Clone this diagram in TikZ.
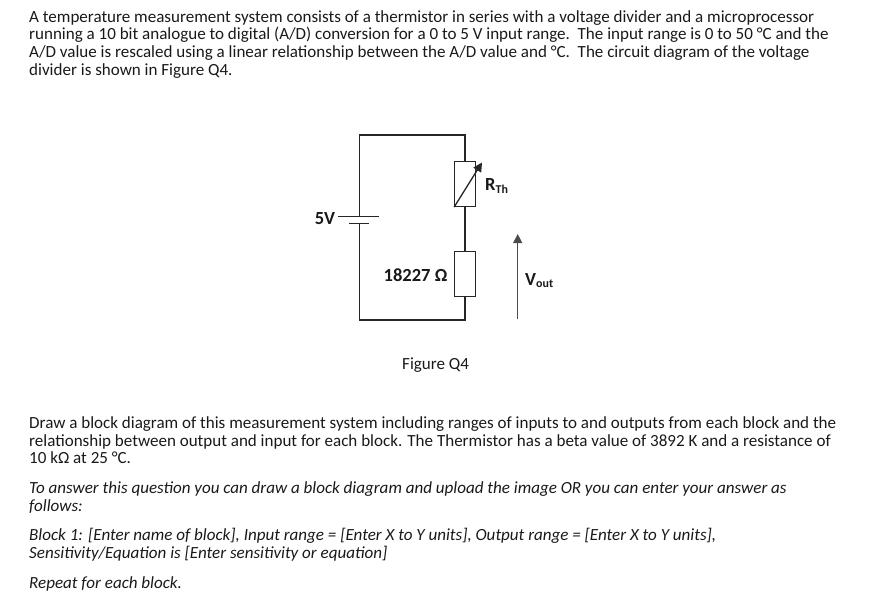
\documentclass[tikz,border=0pt]{standalone}
\usepackage{fontspec}
\setmainfont{Carlito}
\usetikzlibrary{arrows.meta}
\tikzset{
  x=1pt,y=-1pt,
  txt/.style={anchor=base west,inner sep=0pt,font=\fontsize{17.03}{18}\selectfont,text=black!90},
  itxt/.style={txt,font=\fontsize{17.03}{18}\selectfont\itshape},
  lbl/.style={inner sep=0pt,font=\fontsize{18.5}{20}\selectfont\bfseries,text=black!90},
  wire/.style={draw=black!85,line width=1.3pt},
  res/.style={draw=black!85,line width=1.3pt,fill=white,minimum width=20.5pt,minimum height=45pt,inner sep=0pt,rectangle},
  plate/.style={draw=black!85,line width=1.3pt}
}
\begin{document}
\begin{tikzpicture}
\useasboundingbox (0,0) rectangle (893,607);
\node[txt] (t1) at (29,22.3) {A temperature measurement system consists of a thermistor in series with a voltage divider and a microprocessor};
\node[txt] (t2) at (29,40) {running a 10 bit analogue to digital (A/D) conversion for a 0 to 5 V input range.\ \ The input range is 0 to 50 °C and the};
\node[txt] (t3) at (29,57.8) {A/D value is rescaled using a linear relationship between the A/D value and °C.\ \ The circuit diagram of the voltage};
\node[txt] (t4) at (29,75.6) {divider is shown in Figure Q4.};
\node[txt] (fig) at (402,369) {Figure Q4};
\node[txt] (b1) at (29,428) {Draw a block diagram of this measurement system including ranges of inputs to and outputs from each block and the};
\node[txt] (b2) at (29,446) {relationship between output and input for each block. The Thermistor has a beta value of 3892 K and a resistance of};
\node[txt] (b3) at (29,463.5) {10 kΩ at 25 °C.};
\node[itxt] (c1) at (29,493) {To answer this question you can draw a block diagram and upload the image OR you can enter your answer as};
\node[itxt] (c2) at (29,511) {follows:};
\node[itxt] (d1) at (29,540.3) {Block 1: [Enter name of block], Input range = [Enter X to Y units], Output range = [Enter X to Y units],};
\node[itxt] (d2) at (29,558) {Sensitivity/Equation is [Enter sensitivity or equation]};
\node[itxt] (e1) at (29,588) {Repeat for each block.};

\coordinate (tl) at (359.5,135);
\coordinate (tr) at (465,135);
\coordinate (bl) at (359.5,320);
\coordinate (br) at (465,320);
\node[res] (rth) at (465,184) {};
\node[res] (r1) at (465,274) {};
\coordinate (longL) at (338,216.7);
\coordinate (longR) at (379,216.7);
\coordinate (longM) at (359.5,216.7);
\coordinate (shortL) at (349,223.3);
\coordinate (shortR) at (369,223.3);
\coordinate (shortM) at (359.5,223.3);
\draw[wire] (longM) -- (tl) -- (tr) -- (rth.north);
\draw[wire] (rth.south) -- (r1.north);
\draw[wire] (r1.south) -- (br) -- (bl) -- (shortM);
\draw[plate] (longL) -- (longR);
\draw[plate] (shortL) -- (shortR);
\coordinate (thA) at (rth.south west);
\coordinate (thB) at (482,162.5);
\draw[wire,-{Triangle[length=9pt,width=9pt]}] (thA) -- (thB);
\coordinate (vA) at (517.7,319);
\coordinate (vB) at (517.7,234);
\draw[wire,draw=black!70,-{Triangle[length=9pt,width=9pt]}] (vA) -- (vB);
\node[lbl] (five) at (325,219) {5V};
\node[lbl,anchor=base west] (lrth) at (485,190.5) {R\raisebox{-2.5pt}{\fontsize{12}{13}\selectfont Th}};
\node[lbl,anchor=base west] (lr1) at (383.5,281.5) {18227 Ω};
\node[lbl,anchor=base west] (lv) at (525,285) {V\raisebox{-2.5pt}{\fontsize{12}{13}\selectfont out}};
\end{tikzpicture}
\end{document}
